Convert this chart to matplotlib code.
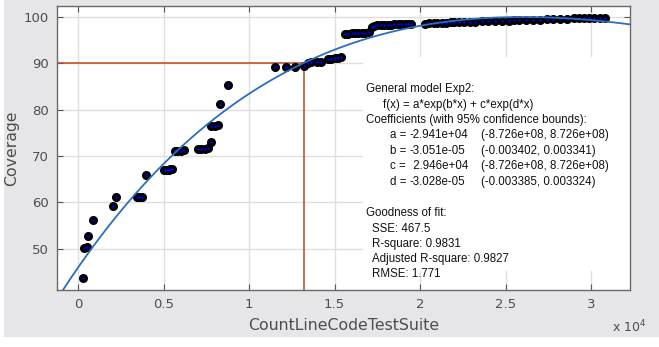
import numpy as np
import matplotlib.pyplot as plt
from matplotlib.patches import Rectangle

# Данные (x в единицах 10^4)
x_pts = [0.027, 0.037, 0.05, 0.057, 0.09, 0.206, 0.224, 0.343, 0.355, 0.372, 0.398,
         0.50, 0.51, 0.52, 0.53, 0.54, 0.55,
         0.57, 0.58, 0.60, 0.62,
         0.70, 0.72, 0.74, 0.76, 0.776, 0.78, 0.80, 0.82, 0.83, 0.879,
         1.152, 1.215, 1.269, 1.32, 1.345, 1.36, 1.40, 1.42, 1.46, 1.48, 1.50, 1.52, 1.54,
         1.56, 1.58, 1.60, 1.62, 1.64, 1.66, 1.68, 1.70,
         1.72, 1.73, 1.75, 1.77, 1.79, 1.81, 1.83, 1.85, 1.87, 1.89, 1.91, 1.93, 1.95,
         2.03, 2.05, 2.08, 2.10, 2.13, 2.15, 2.18, 2.20, 2.23, 2.26, 2.29, 2.32, 2.36,
         2.40, 2.44, 2.48, 2.52,
         2.55, 2.58, 2.62, 2.66, 2.70, 2.74, 2.78, 2.82, 2.86,
         2.90, 2.93, 2.96, 2.99, 3.02, 3.05, 3.08]
y_pts = [43.7, 50.2, 50.5, 52.9, 56.3, 59.3, 61.2, 61.2, 61.2, 61.2, 65.9,
         67.0, 67.0, 67.0, 67.0, 67.1, 67.2,
         71.0, 71.1, 71.1, 71.2,
         71.4, 71.4, 71.6, 71.8, 73.1, 76.4, 76.5, 76.6, 81.2, 85.3,
         89.2, 89.2, 89.2, 89.3, 90.1, 90.2, 90.2, 90.3, 90.8, 90.9, 91.0, 91.1, 91.2,
         96.3, 96.3, 96.4, 96.4, 96.4, 96.5, 96.5, 96.6,
         97.8, 98.0, 98.1, 98.2, 98.2, 98.2, 98.2, 98.3, 98.3, 98.3, 98.3, 98.3, 98.4,
         98.4, 98.5, 98.6, 98.6, 98.7, 98.7, 98.8, 98.8, 98.8, 98.9, 98.9, 98.9, 99.0,
         99.0, 99.0, 99.1, 99.1,
         99.2, 99.2, 99.3, 99.3, 99.3, 99.4, 99.4, 99.5, 99.5,
         99.6, 99.7, 99.7, 99.7, 99.7, 99.7, 99.6]

# Параметры кривой аппроксимации
fit_a0 = 46.0
fit_a1 = 67.0
fit_rate = -0.304

x_star = 1.323
y_star = 90

tick_vals = [0, 0.5, 1, 1.5, 2, 2.5, 3]
tick_labels = ["0", "0.5", "1", "1.5", "2", "2.5", "3"]
ytick_vals = [50, 60, 70, 80, 90, 100]

fit_lines = [
    ("General model Exp2:", 366, 89),
    ("f(x) = a*exp(b*x) + c*exp(d*x)", 383, 105),
    ("Coefficients (with 95% confidence bounds):", 366, 120),
]
coef_rows = [
    ("a =", "-2.941e+04", "(-8.726e+08, 8.726e+08)", 135),
    ("b =", "-3.051e-05", "(-0.003402, 0.003341)", 151),
    ("c =", " 2.946e+04", "(-8.726e+08, 8.726e+08)", 166),
    ("d =", "-3.028e-05", "(-0.003385, 0.003324)", 182),
]
gof_lines = [
    ("Goodness of fit:", 366, 213),
    ("SSE: 467.5", 372, 229),
    ("R-square: 0.9831", 372, 244),
    ("Adjusted R-square: 0.9827", 372, 259),
    ("RMSE: 1.771", 372, 274),
]

W, H = 659, 347
fig = plt.figure(figsize=(W / 100, H / 100), dpi=100)
fig.patch.set_facecolor("white")
fig.patches.append(Rectangle((4 / W, 10 / H), 1 - 4 / W, 1 - 10 / H,
                             transform=fig.transFigure, facecolor="#e6e6e9",
                             edgecolor="none", zorder=-10))

ax = fig.add_axes([57 / W, (H - 290) / H, (630 - 57) / W, (290 - 6) / H])
ax.set_xlim(-0.1228, 3.228)
ax.set_ylim(41.18, 102.26)

# Кривая
x_dense = np.linspace(-0.2, 3.3, 400)
y_dense = np.exp(fit_rate * x_dense) * (fit_a0 + fit_a1 * x_dense)
ax.plot(x_dense, y_dense, color="#2a6fbd", lw=1.3, zorder=4)

# Точки: чёрные кружки с синей серединой
ax.plot(x_pts, y_pts, "o", ms=5.5, mfc="black", mec="black", zorder=3)
ax.plot(x_pts, y_pts, ".", ms=1.5, color="#0000ff", zorder=3.5)

# Линии уровня 90%
ax.plot([-0.1228, x_star], [y_star, y_star], color="#c0461c", lw=1.1, zorder=2)
ax.plot([x_star, x_star], [41.18, y_star], color="#c0461c", lw=1.1, zorder=2)

ax.set_xticks(tick_vals)
ax.set_xticklabels(tick_labels)
ax.set_yticks(ytick_vals)
ax.grid(True, color="#dedede", lw=1)
ax.set_axisbelow(True)
ax.tick_params(direction="in", top=True, right=True, length=4, width=0.8,
               colors="#555555", labelcolor="#4d4d4d", labelsize=9.5, pad=6)
for s in ax.spines.values():
    s.set_color("#6a6a6a")
    s.set_linewidth(1)

ax.set_xlabel("CountLineCodeTestSuite", fontsize=11.3, color="#4d4d4d", labelpad=5)
ax.set_ylabel("Coverage", fontsize=11.3, color="#4d4d4d", labelpad=3)
fig.text(612 / W, 1 - 327 / H, "x 10$^4$", fontsize=9, color="#4d4d4d", va="center")

# Белая подложка под текстом результатов
ax.add_patch(Rectangle((363 / W, 76 / H), (630 - 363) / W, (290 - 76) / H,
                       transform=fig.transFigure, facecolor="white",
                       edgecolor="none", zorder=1.5))

kw = dict(fontsize=8.3, color="#111111", va="center", family="Liberation Sans")
for txt, px, py in fit_lines + gof_lines:
    fig.text(px / W, 1 - py / H, txt, **kw)
for lab, val, bnd, py in coef_rows:
    fig.text(390 / W, 1 - py / H, lab, **kw)
    fig.text(410 / W, 1 - py / H, val, **kw)
    fig.text(481 / W, 1 - py / H, bnd, **kw)

fig.savefig("out.png", dpi=100)
